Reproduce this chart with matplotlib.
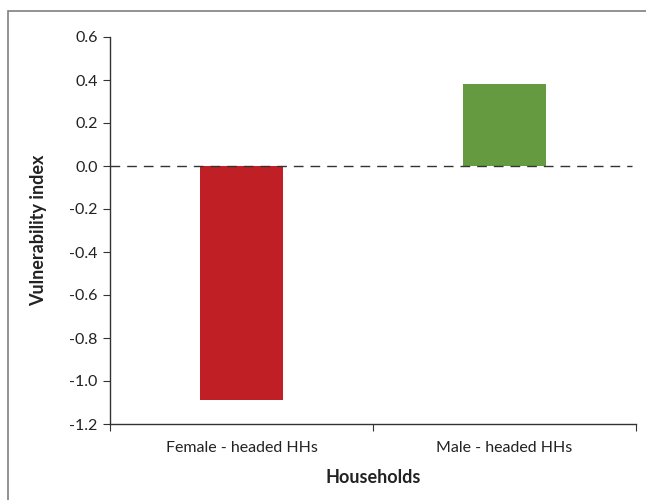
import matplotlib
matplotlib.use("Agg")
import matplotlib.pyplot as plt
from matplotlib.patches import Rectangle

categories = ["Female - headed HHs", "Male - headed HHs"]
values = [-1.09, 0.38]
colors = ["#C01F26", "#669A41"]
yticks = [-1.2, -1.0, -0.8, -0.6, -0.4, -0.2, 0.0, 0.2, 0.4, 0.6]

plt.rcParams['font.family'] = ['Lato', 'DejaVu Sans']

fig = plt.figure(figsize=(6.46, 5.0), dpi=100)
ax = fig.add_axes([110/646, 76/500, 526/646, 387/500])

x = list(range(len(categories)))
ax.bar(x, values, width=0.315, color=colors, zorder=2)
ax.axhline(0, color="#333333", lw=1, dashes=(7, 5), zorder=3, xmax=(632-110)/526)

ax.set_xlim(-0.5, 1.5)
ax.set_ylim(-1.2, 0.6)
ax.set_yticks(yticks)
ax.set_yticklabels([f"{v:.1f}" for v in yticks], fontsize=11.5, color="#222222")
ax.set_xticks([-0.5, 0.5, 1.5])
ax.set_xticklabels([])
ax.set_xticks(x, minor=True)
ax.set_xticklabels(categories, minor=True, fontsize=11.5, color="#222222")
ax.tick_params(axis="x", which="minor", length=0, pad=12)
ax.tick_params(axis="x", which="major", length=5, direction="out", color="#333333")
ax.tick_params(axis="y", length=5, direction="out", color="#333333", pad=4)

for s in ["top", "right"]:
    ax.spines[s].set_visible(False)
for s in ["left", "bottom"]:
    ax.spines[s].set_color("#333333")
    ax.spines[s].set_linewidth(1)

ax.set_xlabel("Households", fontsize=13, fontweight="bold", color="#222222", labelpad=10)
ax.set_ylabel("Vulnerability index", fontsize=13, fontweight="bold", color="#222222", labelpad=16)

fig.patches.append(Rectangle((8/646, -0.1), 1.2, 0.1 + 1 - 11/500, transform=fig.transFigure,
                             fill=False, edgecolor="#7f7f7f", lw=1.2))

fig.savefig("out.png", dpi=100)
